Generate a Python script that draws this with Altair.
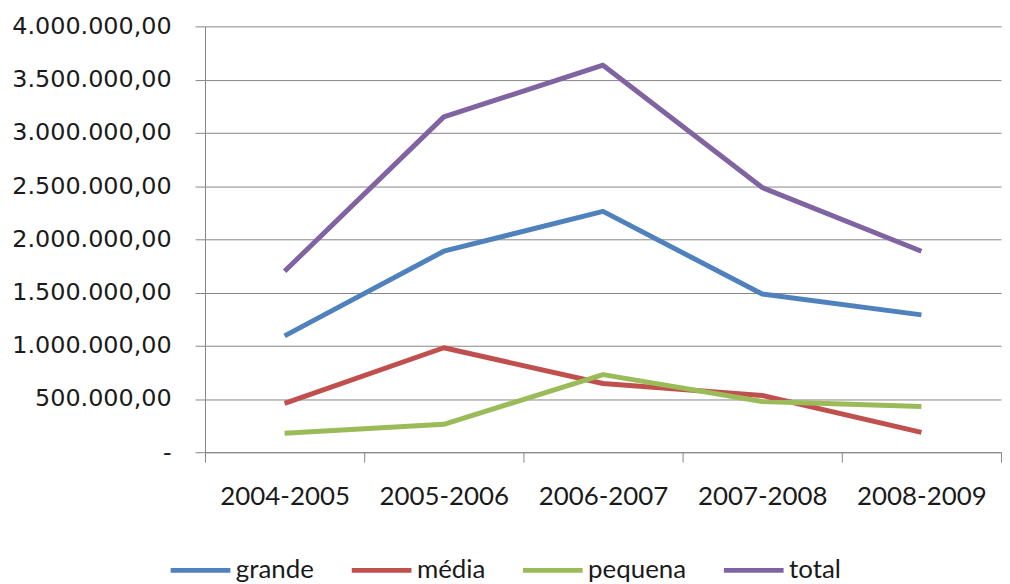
import altair as alt
import pandas as pd

periods = ["2004-2005", "2005-2006", "2006-2007", "2007-2008", "2008-2009"]
series = ["grande", "média", "pequena", "total"]
grande = [1093000, 1888000, 2262000, 1486000, 1290000]
media = [458000, 981000, 645000, 533000, 187000]
pequena = [178000, 262000, 729000, 477000, 430000]
total = [1700000, 3150000, 3635000, 2486000, 1888000]
colors = ["#4F81BD", "#C0504D", "#9BBB59", "#8064A2"]

rows = []
for name, vals in zip(series, [grande, media, pequena, total]):
    for p, v in zip(periods, vals):
        rows.append({"period": p, "serie": name, "valor": v})
df = pd.DataFrame(rows)

chart = alt.Chart(df).mark_line(strokeWidth=5, strokeJoin="round").encode(
    x=alt.X("period:N", sort=periods,
            scale=alt.Scale(type="band", paddingInner=0, paddingOuter=0),
            axis=alt.Axis(title=None, labelAngle=0, tickBand="extent", grid=False,
                          domainColor="#868686", tickColor="#868686", tickSize=10,
                          labelPadding=22, labelFont="Lato", labelFontSize=26,
                          labelColor="#1a1a1a")),
    y=alt.Y("valor:Q", scale=alt.Scale(domain=[0, 4000000]),
            axis=alt.Axis(title=None, values=[0, 500000, 1000000, 1500000, 2000000,
                                              2500000, 3000000, 3500000, 4000000],
                          format=",.2f",
                          labelExpr="datum.value == 0 ? '-' : datum.label",
                          grid=True, gridColor="#868686", domainColor="#868686",
                          tickColor="#868686", tickSize=10, labelPadding=24,
                          labelFont="DejaVu Sans", labelFontSize=24,
                          labelColor="#1a1a1a")),
    color=alt.Color("serie:N", scale=alt.Scale(domain=series, range=colors),
                    legend=alt.Legend(title=None, orient="none", direction="horizontal",
                                      legendX=-37, legendY=514,
                                      symbolType="stroke", symbolStrokeWidth=5,
                                      symbolSize=3600, labelFont="Lato",
                                      labelFontSize=26, labelColor="#1a1a1a",
                                      columnPadding=27, labelOffset=3)),
).properties(
    width=800, height=428, padding={"left": 3, "top": 5, "right": 0, "bottom": 0}
).configure(
    locale={"number": {"decimal": ",", "thousands": ".", "grouping": [3],
                       "currency": ["R$", ""]}}
).configure_view(stroke=None)

chart.save("out.html", embed_options={"renderer": "svg", "actions": False})
